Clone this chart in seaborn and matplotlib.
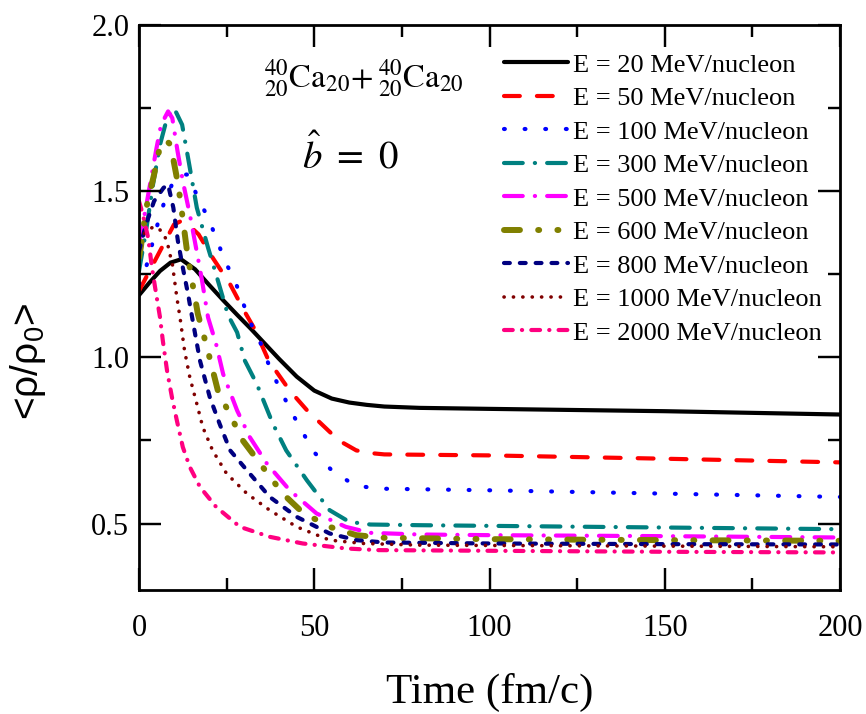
import matplotlib
matplotlib.use("Agg")
import matplotlib.pyplot as plt
from matplotlib.ticker import MultipleLocator, FixedLocator, FixedFormatter
import seaborn as sns
import pandas as pd

# ---- data (time in fm/c, <rho/rho0>) ----
t_20 = [0, 3, 6, 9, 12, 16, 20, 24, 28, 32, 36, 40, 45, 50, 55, 60, 65, 70, 80, 100, 150, 200]
rho_20 = [1.187, 1.225, 1.26, 1.285, 1.295, 1.265, 1.218, 1.172, 1.128, 1.085, 1.04, 0.995,
          0.942, 0.900, 0.876, 0.864, 0.857, 0.852, 0.848, 0.845, 0.838, 0.828]

t_50 = [0, 1.5, 4, 7, 10, 12, 14, 17, 21, 26, 30, 33, 37, 43, 48, 52, 57, 62, 66, 70, 100, 150, 200]
rho_50 = [1.20, 1.23, 1.28, 1.34, 1.40, 1.41, 1.40, 1.37, 1.30, 1.22, 1.14, 1.085, 0.99, 0.90,
          0.84, 0.80, 0.75, 0.72, 0.712, 0.708, 0.705, 0.695, 0.684]

t_100 = [0, 2, 3, 5, 7, 9.4, 12, 14, 16.8, 19.7, 22, 24.5, 27.4, 29.6, 32, 35, 37.3, 40, 43,
         46.4, 50, 55, 61.5, 68, 100, 150, 200]
rho_100 = [1.22, 1.27, 1.31, 1.39, 1.46, 1.52, 1.55, 1.55, 1.48, 1.42, 1.36, 1.29, 1.23, 1.166,
           1.10, 1.036, 0.97, 0.91, 0.846, 0.78, 0.714, 0.66, 0.615, 0.605, 0.600, 0.59, 0.58]

t_300 = [0, 2, 4, 6, 8, 10, 12.3, 14, 16.5, 19.7, 21.7, 25.4, 28, 30.2, 33.6, 38.2, 42, 47.9,
         54.4, 60, 66, 80, 100, 150, 200]
rho_300 = [1.26, 1.38, 1.52, 1.64, 1.72, 1.75, 1.70, 1.60, 1.45, 1.33, 1.26, 1.127, 1.075, 0.99,
           0.92, 0.80, 0.72, 0.63, 0.54, 0.505, 0.497, 0.495, 0.493, 0.488, 0.483]

t_500 = [0, 2.3, 5, 6.3, 8.3, 9.5, 11, 12.5, 14.5, 16.8, 18, 19.7, 22, 24, 28, 31.6, 36.5, 43,
         50.7, 59, 66, 80, 100, 150, 200]
rho_500 = [1.34, 1.47, 1.63, 1.70, 1.74, 1.72, 1.62, 1.53, 1.43, 1.30, 1.23, 1.12, 1.04, 0.95,
           0.84, 0.76, 0.68, 0.60, 0.53, 0.49, 0.472, 0.467, 0.465, 0.462, 0.458]

t_600 = [0, 0.5, 1.4, 2.3, 4.3, 5.7, 7.5, 9, 10.8, 11.7, 13.7, 14.8, 16.8, 19.4, 22.5, 26.8,
         29.6, 35.3, 41, 46.7, 54.4, 62, 70, 100, 150, 200]
rho_600 = [1.30, 1.33, 1.40, 1.46, 1.55, 1.62, 1.655, 1.64, 1.54, 1.48, 1.32, 1.25, 1.13, 1.03,
           0.90, 0.81, 0.75, 0.67, 0.59, 0.533, 0.49, 0.465, 0.457, 0.453, 0.45, 0.448]

t_800 = [0, 2, 4.3, 7, 8.3, 9.8, 11.1, 12.5, 14, 15.5, 17.4, 20.2, 23, 26, 30.8, 37.3, 45,
         54.4, 62, 70, 100, 150, 200]
rho_800 = [1.32, 1.40, 1.47, 1.51, 1.52, 1.45, 1.35, 1.27, 1.19, 1.10, 0.99, 0.88, 0.80, 0.72,
           0.66, 0.58, 0.52, 0.47, 0.45, 0.443, 0.44, 0.438, 0.437]

t_1000 = [0, 2, 3.7, 5.5, 7, 8, 8.8, 9.4, 10.8, 11.7, 13, 14.5, 16.5, 18.2, 21, 25, 30.8, 37.3,
          45, 54.4, 64, 80, 100, 150, 200]
rho_1000 = [1.35, 1.38, 1.39, 1.39, 1.37, 1.35, 1.31, 1.29, 1.18, 1.12, 1.02, 0.94, 0.86, 0.79,
            0.72, 0.65, 0.59, 0.54, 0.49, 0.45, 0.44, 0.435, 0.434, 0.432, 0.43]

t_2000 = [0, 1.1, 2.6, 3.7, 4.6, 6, 6.8, 8, 9.4, 10.8, 12.5, 14.5, 17.4, 22, 28.8, 37.3, 46.7,
          59, 68, 100, 150, 200]
rho_2000 = [1.47, 1.43, 1.36, 1.27, 1.21, 1.12, 1.05, 0.96, 0.88, 0.81, 0.73, 0.67, 0.61, 0.55,
            0.49, 0.46, 0.44, 0.425, 0.42, 0.418, 0.415, 0.413]

energies = [20, 50, 100, 300, 500, 600, 800, 1000, 2000]
times = [t_20, t_50, t_100, t_300, t_500, t_600, t_800, t_1000, t_2000]
rhos = [rho_20, rho_50, rho_100, rho_300, rho_500, rho_600, rho_800, rho_1000, rho_2000]
labels = [f"E = {e} MeV/nucleon" for e in energies]

x_ticks = [0, 50, 100, 150, 200]
x_tick_labels = ["0", "50", "100", "150", "200"]
y_ticks = [0.5, 1.0, 1.5, 2.0]
y_tick_labels = ["0.5", "1.0", "1.5", "2.0"]

# ---- styles ----
colors = ["#000000", "#FF0000", "#0000FF", "#008080", "#FF00FF",
          "#808000", "#000080", "#800000", "#FF0080"]
widths = [3.0, 3.0, 3.0, 3.0, 3.0, 4.3, 3.0, 2.6, 3.0]
dash_styles = [
    "-",
    (0, (3.8, 4.1)),
    (0, (0.2, 4.75)),
    (0, (4.5, 2.9, 0.05, 2.9)),
    (0, (4.5, 2.9, 0.05, 2.9)),
    (0, (2.67, 3.05, 0.17, 3.05, 0.17, 3.05)),
    (0, (1.4, 2.4)),
    (0, (0.05, 2.55)),
    (0, (2.1, 2.2, 0.05, 2.2)),
]

plt.rcdefaults()
rc = plt.rcParams
rc["font.family"] = ["Liberation Serif", "DejaVu Serif"]
rc["font.serif"] = ["Liberation Serif", "DejaVu Serif"]
rc["mathtext.fontset"] = "custom"
rc["mathtext.rm"] = "Liberation Sans"
rc["mathtext.it"] = "Liberation Sans:italic"
rc["axes.edgecolor"] = "black"
rc["axes.linewidth"] = 2.0
for a in ("xtick", "ytick"):
    rc[f"{a}.direction"] = "in"
    rc[f"{a}.color"] = "black"
    rc[f"{a}.major.size"] = 16
    rc[f"{a}.minor.size"] = 8.5
    rc[f"{a}.major.width"] = 1.6
    rc[f"{a}.minor.width"] = 1.6
    rc[f"{a}.labelsize"] = 22
rc["xtick.top"] = True
rc["ytick.right"] = True

fig = plt.figure(figsize=(8.66, 7.14), dpi=100)
ax = fig.add_axes([139 / 866, 124 / 714, 701 / 866, 565 / 714])

handles = []
for t, r, lab, c, lw, ls in zip(times, rhos, labels, colors, widths, dash_styles):
    df = pd.DataFrame({"t": t, "rho": r})
    sns.lineplot(data=df, x="t", y="rho", ax=ax, color=c, linewidth=lw, linestyle=ls,
                 dash_capstyle="round", solid_capstyle="round", estimator=None,
                 sort=False, label=lab, legend=False)
    handles.append(ax.get_lines()[-1])

ax.set_xlim(0, 200)
ax.set_ylim(0.3, 2.0)
ax.xaxis.set_major_locator(FixedLocator(x_ticks))
ax.xaxis.set_major_formatter(FixedFormatter(x_tick_labels))
ax.yaxis.set_major_locator(FixedLocator(y_ticks))
ax.yaxis.set_major_formatter(FixedFormatter(y_tick_labels))
ax.xaxis.set_minor_locator(MultipleLocator(25))
ax.yaxis.set_minor_locator(MultipleLocator(0.25))
ax.tick_params(which="both", direction="in", top=True, right=True, bottom=True, left=True,
               width=1.6, color="black", labelcolor="black", labelsize=22)
ax.tick_params(which="major", length=16)
ax.tick_params(which="minor", length=8.5)
ax.tick_params(axis="x", which="major", pad=17)
ax.tick_params(axis="y", which="major", pad=7)
for s in ax.spines.values():
    s.set_linewidth(2.0)
    s.set_color("black")

# inward tick marks, also drawn as short line segments at the locator positions
x0, x1 = ax.get_xlim()
y0, y1 = ax.get_ylim()
ax_w_px, ax_h_px = 701.0, 565.0
dy_maj, dy_min = (y1 - y0) * 22 / ax_h_px, (y1 - y0) * 12 / ax_h_px
dx_maj, dx_min = (x1 - x0) * 22 / ax_w_px, (x1 - x0) * 12 / ax_w_px
xmaj = [v for v in ax.get_xticks() if x0 < v < x1]
xmin = [v for v in ax.xaxis.get_minorticklocs() if x0 < v < x1]
ymaj = [v for v in ax.get_yticks() if y0 < v < y1]
ymin = [v for v in ax.yaxis.get_minorticklocs() if y0 < v < y1]
tk = dict(color="black", linewidth=1.6, solid_capstyle="butt", zorder=3)
for xs, d in ((xmaj, dy_maj), (xmin, dy_min)):
    for v in xs:
        ax.plot([v, v, v], [y0, y0 + d / 2, y0 + d], **tk)
        ax.plot([v, v, v], [y1 - d, y1 - d / 2, y1], **tk)
for ys, d in ((ymaj, dx_maj), (ymin, dx_min)):
    for v in ys:
        ax.plot([x0, x0 + d / 2, x0 + d], [v, v, v], **tk)
        ax.plot([x1 - d, x1 - d / 2, x1], [v, v, v], **tk)
ax.set_xlim(x0, x1)
ax.set_ylim(y0, y1)

ax.set_xlabel("Time (fm/c)", fontsize=31, labelpad=22)
ax.set_ylabel("<ρ/ρ$_0$>", fontsize=28, family=["Liberation Sans", "DejaVu Sans"])
ax.yaxis.set_label_coords(-0.13, 0.405)

ax.legend(handles, labels, loc="upper left", bbox_to_anchor=(0.521, 0.950), frameon=False,
          fontsize=19, handlelength=2.42, handletextpad=0.2, labelspacing=0.38,
          borderaxespad=0, borderpad=0)

ax.text(0.321, 0.906, r"${}^{40}_{20}\mathrm{Ca}_{20}\!+{}^{40}_{20}\mathrm{Ca}_{20}$",
        transform=ax.transAxes, ha="center", va="center", fontsize=23.5, math_fontfamily="stix")
ax.text(0.301, 0.768, r"$\hat{b}\ =\ 0$", transform=ax.transAxes, ha="center", va="center",
        fontsize=28, math_fontfamily="stix")

fig.savefig("out.png", dpi=100)
